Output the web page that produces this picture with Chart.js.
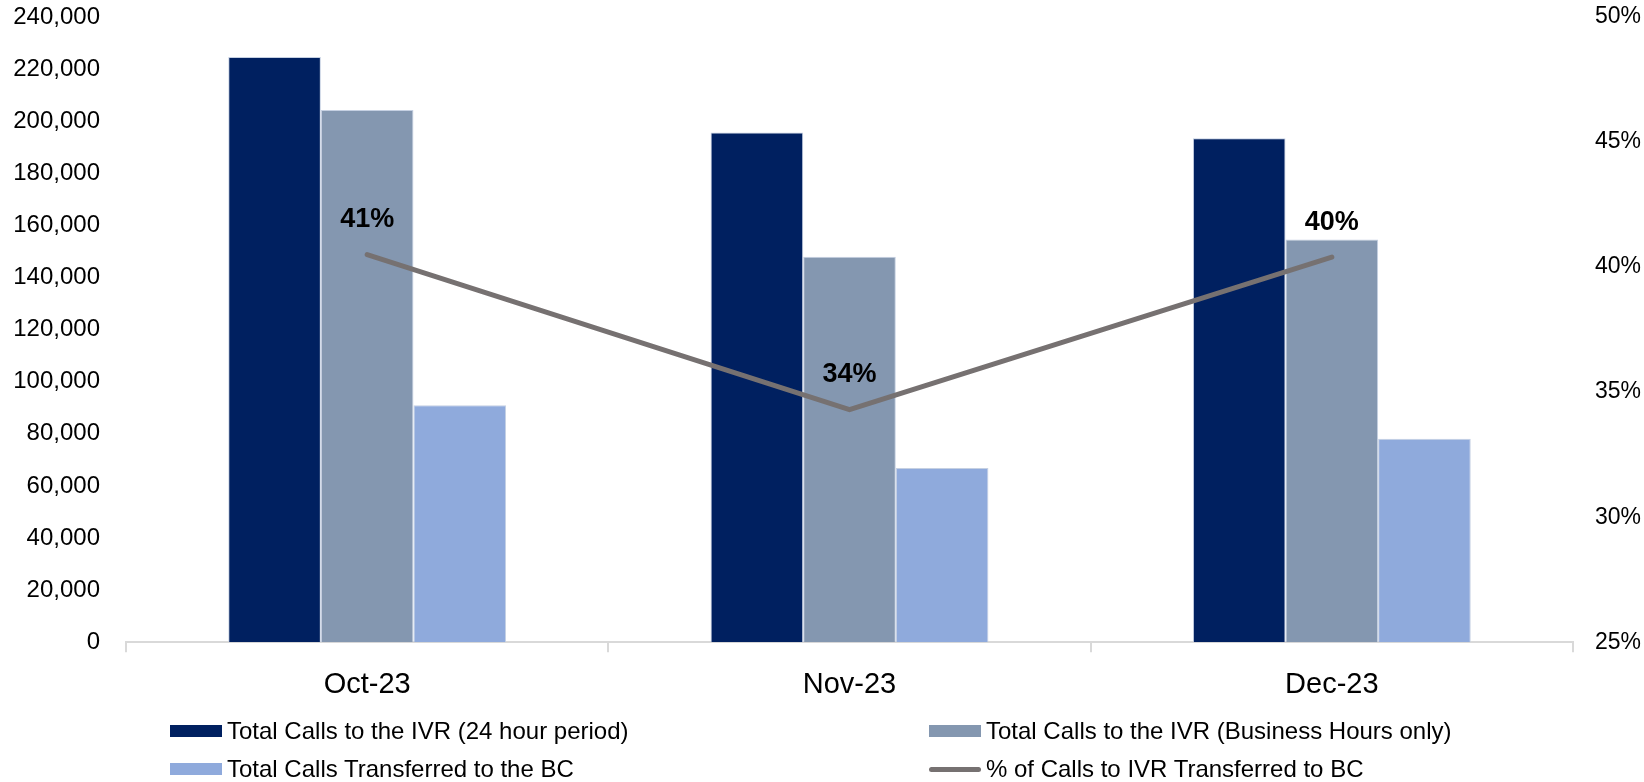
<!DOCTYPE html>
<html>
<head>
<meta charset="utf-8">
<script src="https://cdn.jsdelivr.net/npm/chart.js@4.4.1/dist/chart.umd.min.js"></script>
<style>
    html, body { margin: 0; padding: 0; background: #fff; }
    #wrap { position: relative; width: 1644px; height: 782px; overflow: hidden; }
    #chart { position: absolute; left: 0; top: 0; }
    .legend-item {
        position: absolute;
        display: flex;
        align-items: center;
        font-family: "Liberation Sans", Arial, sans-serif;
        font-size: 24px;
        color: #000;
        white-space: nowrap;
        line-height: 1;
    }
    .legend-swatch { width: 52px; height: 12px; margin-right: 5px; }
    .legend-line { width: 52px; height: 5px; border-radius: 3px; margin-right: 5px; }
</style>
</head>
<body>
<div id="wrap">
    <canvas id="chart" width="1644" height="782"></canvas>
    <div id="legend"></div>
</div>
<script>
// Chart data
const months = ['Oct-23', 'Nov-23', 'Dec-23'];
const seriesNames = [
    'Total Calls to the IVR (24 hour period)',
    'Total Calls to the IVR (Business Hours only)',
    'Total Calls Transferred to the BC',
    '% of Calls to IVR Transferred to BC'
];
const calls24h = [224600, 195700, 193500];
const callsBusiness = [204300, 148000, 154600];
const callsTransferred = [91000, 66900, 78100];
const pctTransferred = [0.405, 0.343, 0.404];
const leftTicks = [0, 20000, 40000, 60000, 80000, 100000, 120000, 140000, 160000, 180000, 200000, 220000, 240000];
const rightTicks = [0.25, 0.30, 0.35, 0.40, 0.45, 0.50];

const FONT = '"Liberation Sans", Arial, sans-serif';

// Percent labels above the line points
const lineLabels = {
    id: 'lineLabels',
    afterDatasetsDraw(chart) {
        const ctx = chart.ctx;
        const meta = chart.getDatasetMeta(3);
        ctx.save();
        ctx.font = 'bold 27px ' + FONT;
        ctx.fillStyle = '#000';
        ctx.textAlign = 'center';
        ctx.textBaseline = 'middle';
        meta.data.forEach((pt, i) => {
            const v = chart.data.datasets[3].data[i];
            ctx.fillText(Math.round(v * 100) + '%', pt.x, pt.y - 35);
        });
        ctx.restore();
    }
};

const ctx = document.getElementById('chart').getContext('2d');
const chart = new Chart(ctx, {
    type: 'bar',
    data: {
        labels: months,
        datasets: [
            { label: seriesNames[0], data: calls24h, backgroundColor: '#002060', borderColor: '#C5D0E2', borderWidth: 1, yAxisID: 'y', order: 1 },
            { label: seriesNames[1], data: callsBusiness, backgroundColor: '#8497B0', borderColor: '#C5D0E2', borderWidth: 1, yAxisID: 'y', order: 1 },
            { label: seriesNames[2], data: callsTransferred, backgroundColor: '#8FAADC', borderColor: '#C5D0E2', borderWidth: 1, yAxisID: 'y', order: 1 },
            {
                type: 'line', label: seriesNames[3], data: pctTransferred, yAxisID: 'y1', order: 0,
                borderColor: '#767171', borderWidth: 5, pointRadius: 0, borderCapStyle: 'round',
                tension: 0, fill: false
            }
        ]
    },
    options: {
        responsive: false,
        animation: false,
        layout: { padding: { top: 17, bottom: 65, left: 0, right: 0 } },
        datasets: {
            bar: { categoryPercentage: 0.576, barPercentage: 1.0 }
        },
        plugins: {
            legend: { display: false },
            tooltip: { enabled: false }
        },
        scales: {
            x: {
                grid: { display: true, drawOnChartArea: false, drawTicks: true, tickLength: 10, color: '#D9D9D9', lineWidth: 2, offset: true },
                border: { display: true, color: '#D9D9D9', width: 2 },
                ticks: { color: '#000', font: { family: FONT, size: 29 }, padding: 15 }
            },
            y: {
                position: 'left',
                min: 0, max: 240000,
                afterBuildTicks: s => { s.ticks = leftTicks.map(v => ({ value: v })); },
                afterFit: s => { s.width = 126; s.paddingTop = 0; s.paddingBottom = 0; },
                grid: { display: false, drawTicks: false },
                border: { display: false },
                ticks: {
                    color: '#000', padding: 26,
                    font: { family: FONT, size: 24 },
                    callback: v => v.toLocaleString('en-US')
                }
            },
            y1: {
                position: 'right',
                min: 0.25, max: 0.5,
                afterBuildTicks: s => { s.ticks = rightTicks.map(v => ({ value: v })); },
                afterFit: s => { s.width = 71; s.paddingTop = 0; s.paddingBottom = 0; },
                grid: { display: false, drawTicks: false },
                border: { display: false },
                ticks: {
                    color: '#000', padding: 22,
                    font: { family: FONT, size: 23 },
                    callback: v => Math.round(v * 100) + '%'
                }
            }
        }
    },
    plugins: [lineLabels]
});

// Legend in two columns, built from the datasets
const legendPos = [
    { left: 170, top: 731 },
    { left: 929, top: 731 },
    { left: 170, top: 769 },
    { left: 929, top: 769 }
];
const legendEl = document.getElementById('legend');
chart.data.datasets.forEach((ds, i) => {
    const item = document.createElement('div');
    item.className = 'legend-item';
    item.style.left = legendPos[i].left + 'px';
    item.style.top = (legendPos[i].top - 12) + 'px';
    item.style.height = '24px';
    const sw = document.createElement('span');
    if (ds.type === 'line') {
        sw.className = 'legend-line';
        sw.style.background = ds.borderColor;
    } else {
        sw.className = 'legend-swatch';
        sw.style.background = ds.backgroundColor;
    }
    const txt = document.createElement('span');
    txt.textContent = ds.label;
    item.appendChild(sw);
    item.appendChild(txt);
    legendEl.appendChild(item);
});
</script>
</body>
</html>
